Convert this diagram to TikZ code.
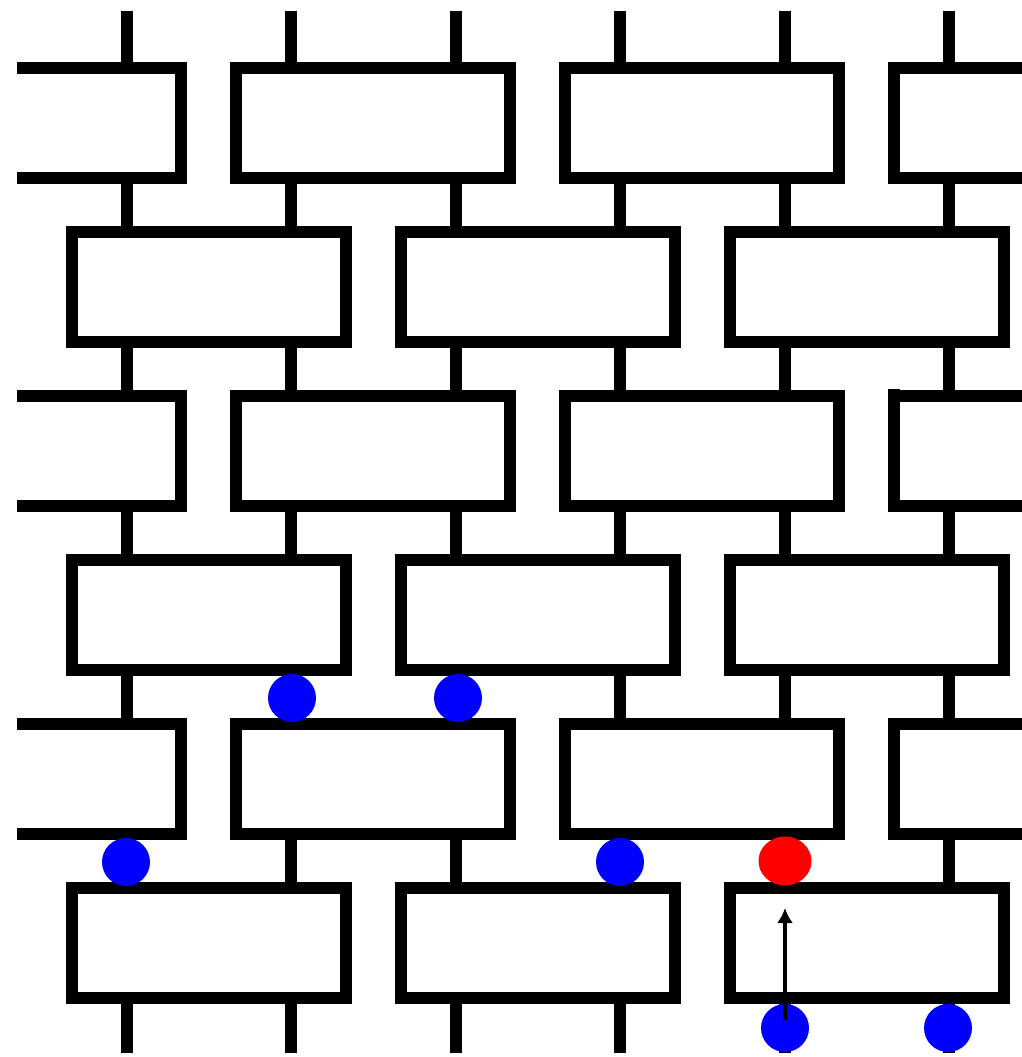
\documentclass[tikz,border=0pt]{standalone}
\usetikzlibrary{arrows.meta,shapes.geometric}
\begin{document}
\begin{tikzpicture}[x=1pt,y=-1pt,
  brick/.style={rectangle, draw=black, fill=white, line width=12pt, minimum width=274pt, minimum height=110pt, inner sep=0pt},
  wire/.style={line width=12pt, draw=black},
  bdot/.style={circle, fill=blue, minimum size=48pt, inner sep=0pt},
  rdot/.style={ellipse, fill=red, minimum width=53pt, minimum height=49pt, inner sep=0pt},
  pointer/.style={line width=4pt, -{Latex[length=15pt,width=16pt]}}
]
\useasboundingbox (0,0) rectangle (1022,1057);
\begin{scope}
  \clip (17,0) rectangle (1022,1057);
  % wires
  \foreach \x [count=\i] in {126.5,291,455.5,620,784.5,949}
    \draw[wire] (\x,11) -- (\x,1053);
  % odd rows
  \foreach \r in {0,2,4}{
    \foreach \cx [count=\j] in {44,373,702,1031}
      \node[brick] (b\r-\j) at (\cx,{123+164*\r}) {};
  }
  % even rows
  \foreach \r in {1,3,5}{
    \foreach \cx [count=\j] in {209,538,867}
      \node[brick] (b\r-\j) at (\cx,{123+164*\r}) {};
  }
  \fill[black] (888,389) rectangle (900,397);
\end{scope}
% markers
\node[bdot] (d1) at (292,698) {};
\node[bdot] (d2) at (458,698) {};
\node[bdot] (d3) at (126,862) {};
\node[bdot] (d4) at (620,862) {};
\node[rdot] (red) at (785,861) {};
\node[bdot] (d5) at (785,1028) {};
\node[bdot] (d6) at (948,1028) {};
\coordinate (astart) at (785,1020);
\coordinate (aend) at (785,908);
\draw[pointer] (astart) -- (aend);
\end{tikzpicture}
\end{document}
